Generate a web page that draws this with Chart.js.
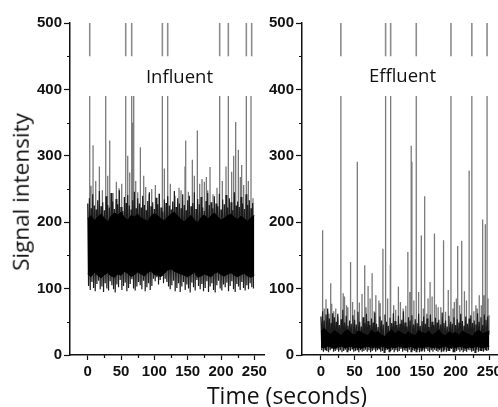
<!DOCTYPE html>
<html><head><meta charset="utf-8">
<script src="https://cdn.jsdelivr.net/npm/chart.js@4.4.1/dist/chart.umd.min.js"></script>
<style>
html,body{margin:0;padding:0;background:#fff;}
body{width:498px;height:407px;overflow:hidden;position:relative;}
canvas{position:absolute;top:0;}
#c1{left:0;}
#c2{left:230px;}
.lbl{position:absolute;font-family:'Open Sans',sans-serif;color:#111;white-space:nowrap;line-height:1;}
#ytitle{left:21px;top:192px;font-size:22.5px;transform:translate(-50%,-50%) rotate(-90deg);}
#xtitle{left:287px;top:395px;font-size:23px;transform:translate(-50%,-50%);}
#t1{left:179.5px;top:76px;font-size:18.5px;transform:translate(-50%,-50%);}
#t2{left:402.5px;top:74.5px;font-size:18.5px;transform:translate(-50%,-50%);}
</style></head><body>
<canvas id="c1" width="270" height="407"></canvas>
<canvas id="c2" width="275" height="407"></canvas>
<div class="lbl" id="ytitle">Signal intensity</div>
<div class="lbl" id="xtitle">Time (seconds)</div>
<div class="lbl" id="t1">Influent</div>
<div class="lbl" id="t2">Effluent</div>
<script>
// ---------- data ----------
const panelTitles = ['Influent', 'Effluent'];
const xTickLabels = [0, 50, 100, 150, 200, 250];
const yTickLabels = [0, 100, 200, 300, 400, 500];
const xMinorTicks = [25, 75, 125, 175, 225];
const yMinorTicks = [50, 150, 250, 350, 450];

// core band sampled every 5 s (0..250)
const coreTimes = [0,5,10,15,20,25,30,35,40,45,50,55,60,65,70,75,80,85,90,95,100,105,110,115,120,125,130,135,140,145,150,155,160,165,170,175,180,185,190,195,200,205,210,215,220,225,230,235,240,245,250];
const inflCoreHi = [205,210,202,208,212,206,200,209,214,211,215,207,203,210,208,212,206,204,201,209,213,210,205,202,208,212,215,209,204,200,206,210,203,199,207,211,205,209,214,208,203,206,210,212,207,204,209,205,201,207,210];
const inflCoreLo = [122,118,125,120,116,121,124,119,117,122,120,126,123,118,121,125,122,119,124,127,121,120,118,123,128,130,126,124,122,120,118,121,125,117,119,122,120,118,123,125,121,119,122,124,120,118,121,123,119,117,120];
// noisy fringe, sampled every 2.5 s (peak, then trough)
const inflFringeHi = [228,236,221,242,225,219,233,247,224,230,218,239,226,222,244,231,220,235,227,248,223,217,238,229,241,225,219,233,246,221,236,228,222,240,226,218,232,245,224,230,220,237,227,243,222,216,234,229,239,225,219,231,247,223,236,228,221,242,226,218,233,240,224,229,245,220,235,227,238,222,217,232,244,226,230,221,239,228,224,243,219,234,227,241,222,236,230,218,245,225,231,223,238,228,220,242,226,233,221,229];
const inflFringeLo = [104,98,110,101,96,107,112,99,103,95,108,100,97,111,105,99,94,106,102,113,98,104,109,96,101,107,114,100,97,103,110,105,99,112,96,102,108,98,104,115,111,117,106,113,119,108,115,110,103,99,105,112,96,101,108,95,103,110,98,106,100,94,109,102,97,113,104,99,107,96,101,111,95,103,108,98,94,105,112,100,97,106,102,109,96,104,111,99,95,107,103,98,110,101,97,105,99,108,102,100];
// spikes (time, peak)
const inflSpikeT = [3,5,8,12,17.5,22,27,30,33,38,43,47,51,57,57,60,63,66,67,69,72,75,79,84,87,92,96,101.5,107,112,115,120,124,131,137,140,146,147,151,157,160,164.5,168,171.5,175,178,180,183.5,188,194,198,202,207.5,211,216,219,222,226,229,231,234,238,241,245,248];
const inflSpikeV = [390,255,316,262,284,248,390,270,323,244,261,251,258,390,306,300,275,390,350,390,262,245,313,270,253,242,250,256,243,390,281,390,258,240,252,248,284,323,246,294,270,338,258,265,261,268,248,283,242,252,390,262,284,390,276,300,351,309,268,286,256,390,262,390,236];
// event markers at the top
const inflMarkers = [3,57,66,112,120,198,211,238,246];

const efflCoreHi = [36,40,34,31,37,33,29,35,38,32,30,36,34,31,29,37,33,35,30,28,34,38,32,36,33,30,35,31,29,37,34,32,36,30,33,38,31,29,35,32,34,30,36,33,31,28,35,37,32,34,36];
const efflCoreLo = [12,11,13,12,10,12,13,11,12,13,11,12,10,12,13,11,12,11,13,12,10,12,11,13,12,11,12,13,10,12,11,12,13,11,12,10,12,13,11,12,11,13,12,10,12,11,13,12,11,12,13];
const efflFringeHi = [58,66,52,61,70,55,48,63,57,50,62,45,54,68,49,59,44,52,47,60,53,46,65,50,43,57,48,62,51,45,55,49,64,47,42,58,52,46,61,50,44,56,48,63,51,45,59,47,53,66,49,43,57,52,60,46,54,48,62,44,51,58,47,55,42,61,50,45,56,49,53,46,64,48,52,43,59,50,47,57,45,54,49,62,51,44,58,47,55,60,48,52,46,63,50,57,45,61,53,58];
const efflFringeLo = [7,5,8,6,4,7,9,5,6,8,5,7,4,6,8,5,7,6,9,5,6,8,4,7,5,6,8,5,7,4,6,8,5,7,9,5,6,4,7,8,5,6,8,4,7,5,6,9,5,7,6,4,8,5,7,6,5,8,4,6,7,5,9,6,4,7,5,8,6,5,7,4,6,8,5,7,6,9,5,4,6,8,5,7,4,6,5,8,7,5,6,4,8,5,7,6,5,8,6,7];
const efflSpikeT = [2.5,5,7.5,10,12,14.5,16,19,22,25,29.6,33,35,38,40,44,47,50,54,57,61,65,67,70,73,76,79,81.5,86,88,92,96,99,103,103.5,108,111,115,118,122,126,129,132,134,135,138,141.5,145,149,152,154,157,159,162,165,168.5,171,174,178,182,185,189,193,196,198,201,203,206,209,213,216,220,224,227,230,232,235,238,240,242,244,246.6,248,249.5];
const efflSpikeV = [188,70,84,65,62,108,77,66,70,58,390,93,88,75,72,140,80,68,291,79,92,135,72,104,85,123,66,90,82,78,160,390,85,136,390,75,68,103,80,70,74,155,95,315,291,82,390,95,180,70,239,62,85,110,88,183,76,72,72,173,65,98,390,70,80,85,164,75,172,96,82,278,390,66,75,70,90,75,204,90,197,390,85,60];
const efflMarkers = [29.6,96,103.5,141.5,193,224,246.6];

// ---------- building datasets ----------
const FRINGE_STEP = 2.5;
function fringePoints(hi, lo) {
  const pts = [];
  for (let i = 0; i < hi.length; i++) {
    pts.push({x: i * FRINGE_STEP, y: hi[i]});
    pts.push({x: i * FRINGE_STEP + FRINGE_STEP / 2, y: lo[i]});
  }
  return pts;
}
function corePoints(vals) { return vals.map((v, i) => ({x: coreTimes[i], y: v})); }
function segPoints(ts, base, tops) {
  const pts = [];
  ts.forEach((t, i) => {
    pts.push({x: t, y: base}); pts.push({x: t, y: tops[i]}); pts.push({x: t, y: null});
  });
  return pts;
}
const MARK_LO = 450, MARK_HI = 500;

const minorPlugin = {
  id: 'minorTicks',
  afterDraw(chart) {
    const ctx = chart.ctx, xs = chart.scales.x, ys = chart.scales.y;
    ctx.save();
    ctx.strokeStyle = '#111'; ctx.lineWidth = 1.2;
    ctx.beginPath();
    xMinorTicks.forEach(v => { const p = Math.round(xs.getPixelForValue(v)) + 0.5; ctx.moveTo(p, ys.bottom); ctx.lineTo(p, ys.bottom + 3); });
    yMinorTicks.forEach(v => { const p = Math.round(ys.getPixelForValue(v)) + 0.5; ctx.moveTo(xs.left, p); ctx.lineTo(xs.left - 3, p); });
    ctx.stroke();
    ctx.restore();
  }
};

function makePanel(id, xMin, xMax, yWidth, padRight, coreHi, coreLo, fHi, fLo, spT, spV, spBase, marks) {
  const tickFont = {family: 'Liberation Sans', size: 15, weight: 'bold'};
  return new Chart(document.getElementById(id), {
    type: 'line',
    data: {datasets: [
      {data: corePoints(coreHi), borderColor: '#000', borderWidth: 1, backgroundColor: '#000', fill: '+1', pointRadius: 0},
      {data: corePoints(coreLo), borderColor: '#000', borderWidth: 1, fill: false, pointRadius: 0},
      {data: fringePoints(fHi, fLo), borderColor: '#1c1c1c', borderWidth: 1.2, fill: false, pointRadius: 0},
      {data: segPoints(spT, spBase, spV), borderColor: '#7a7a7a', borderWidth: 1.3, fill: false, pointRadius: 0, spanGaps: false},
      {data: segPoints(marks, MARK_LO, marks.map(() => MARK_HI)), borderColor: '#8c8c8c', borderWidth: 1.6, fill: false, pointRadius: 0, spanGaps: false}
    ]},
    options: {
      responsive: false, animation: false, devicePixelRatio: 1,
      layout: {padding: {left: 0, top: 23, right: padRight, bottom: 0}},
      plugins: {legend: {display: false}, tooltip: {enabled: false}},
      elements: {point: {radius: 0}, line: {tension: 0}},
      scales: {
        x: {
          type: 'linear', min: xMin, max: xMax,
          border: {color: '#111', width: 1.5},
          grid: {drawOnChartArea: false, tickLength: 5, tickColor: '#111', tickWidth: 1.2},
          ticks: {stepSize: 50, includeBounds: false, autoSkip: false, maxRotation: 0, color: '#111', font: tickFont, padding: 3,
                  callback: v => xTickLabels.includes(v) ? String(v) : ''},
          afterFit(s) { s.height = 52; }
        },
        y: {
          type: 'linear', min: 0, max: 500,
          border: {color: '#111', width: 1.5},
          grid: {drawOnChartArea: false, tickLength: 6, tickColor: '#111', tickWidth: 1.2},
          ticks: {stepSize: 100, includeBounds: false, color: '#111', font: tickFont, padding: 2,
                  callback: v => yTickLabels.includes(v) ? String(v) : ''},
          afterFit(s) { s.width = yWidth; }
        }
      }
    },
    plugins: [minorPlugin]
  });
}

makePanel('c1', -26.6, 264.8, 70, 3, inflCoreHi, inflCoreLo, inflFringeHi, inflFringeLo, inflSpikeT, inflSpikeV, 200, inflMarkers);
makePanel('c2', -28.1, 269.2, 72, 2, efflCoreHi, efflCoreLo, efflFringeHi, efflFringeLo, efflSpikeT, efflSpikeV, 30, efflMarkers);
</script>
</body></html>
